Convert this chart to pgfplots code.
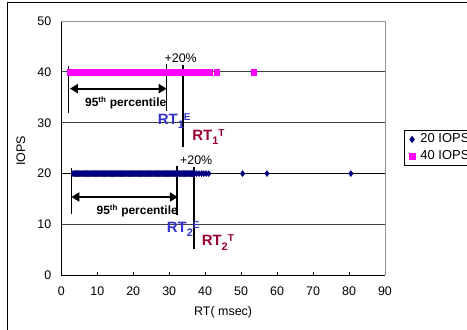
\documentclass[border=0pt]{standalone}
\usepackage{pgfplots}
\pgfplotsset{compat=1.18}
\usepackage{fontspec}
\setmainfont{Liberation Sans}
\usetikzlibrary{arrows.meta}
\definecolor{navyc}{RGB}{0,0,128}
\definecolor{magc}{RGB}{255,0,255}
\definecolor{rtblue}{RGB}{51,51,204}
\definecolor{rtred}{RGB}{153,0,51}
\definecolor{gridc}{RGB}{64,64,64}
\definecolor{bordc}{RGB}{150,150,150}
\newcommand{\rtsub}[1]{\raisebox{-4.5bp}{\fontsize{11}{11}\selectfont #1}}
\newcommand{\rtsup}[1]{\raisebox{4bp}{\fontsize{10}{10}\selectfont #1}}
\begin{document}
\begin{tikzpicture}
\path[use as bounding box] (0,0) rectangle (467bp,330bp);
\clip (0,0) rectangle (467bp,330bp);
\draw[line width=0.8bp] (7.3bp,-5bp) -- (7.3bp,327.7bp) -- (480bp,327.7bp);
\begin{axis}[
  at={(61.3bp,54.7bp)}, anchor=south west,
  scale only axis, width=323.7bp, height=254.3bp,
  xmin=0, xmax=90, ymin=0, ymax=50,
  xtick={0,10,...,90}, ytick={0,10,...,50},
  axis x line*=bottom, axis y line*=left,
  axis line style={-, black, line width=0.8bp},
  xtick align=inside, major tick length=3bp,
  ytick style={draw=none},
  xtick style={black, line width=0.8bp},
  /pgf/number format/assume math mode=true,
  tick label style={font=\fontsize{12.5}{14}\selectfont, text=black},
  xticklabel style={yshift=-8bp},
  yticklabel style={xshift=-6.6bp},
  xlabel={RT( msec)}, ylabel={IOPS},
  label style={font=\fontsize{12.5}{14}\selectfont},
  xlabel style={at={(axis description cs:0.5,-0.1455)}, anchor=center},
  ylabel style={at={(axis description cs:-0.125,0.49)}, anchor=center},
  legend style={at={(axis description cs:1.0596,0.5714)}, anchor=north west,
    draw=black, line width=0.8bp, font=\fontsize{13}{15}\selectfont,
    inner xsep=4bp, inner ysep=2bp, row sep=3bp,
    nodes={inner sep=1bp, text height=9bp, text depth=3bp, anchor=west}},
  legend image code/.code={\path (0bp,0bp) (10bp,0bp);
    \draw[mark repeat=2,mark phase=2,#1] plot coordinates {(0bp,0bp) (3bp,0bp) (6bp,0bp)};},
  legend cell align=left,
  clip=false,
]
% gridlines
\draw[gridc, line width=0.8bp] (axis cs:0,10) -- (axis cs:90,10);
\draw[gridc, line width=0.8bp] (axis cs:0,30) -- (axis cs:90,30);
\draw[gridc, line width=0.8bp] (axis cs:0,40) -- (axis cs:90,40);
\draw[black, line width=0.8bp] (axis cs:0,20) -- (axis cs:90,20);
\draw[bordc, line width=0.8bp] (axis cs:0,50) -- (axis cs:90,50) -- (axis cs:90,0);

\addplot[only marks, mark=diamond*, mark size=3bp, color=navyc] coordinates {
(3.25,20) (3.5,20) (3.75,20) (4,20) (4.25,20) (4.5,20) (4.75,20) (5,20) (5.25,20) (5.5,20) (5.75,20)
(6,20) (6.25,20) (6.5,20) (6.75,20) (7,20) (7.25,20) (7.5,20) (7.75,20) (8,20) (8.25,20) (8.5,20) (8.75,20)
(9,20) (9.25,20) (9.5,20) (9.75,20) (10,20) (10.25,20) (10.5,20) (10.75,20) (11,20) (11.25,20) (11.5,20) (11.75,20)
(12,20) (12.25,20) (12.5,20) (12.75,20) (13,20) (13.25,20) (13.5,20) (13.75,20) (14,20) (14.25,20) (14.5,20) (14.75,20)
(15,20) (15.25,20) (15.5,20) (15.75,20) (16,20) (16.25,20) (16.5,20) (16.75,20) (17,20) (17.25,20) (17.5,20) (17.75,20)
(18,20) (18.25,20) (18.5,20) (18.75,20) (19,20) (19.25,20) (19.5,20) (19.75,20) (20,20) (20.25,20) (20.5,20) (20.75,20)
(21,20) (21.25,20) (21.5,20) (21.75,20) (22,20) (22.25,20) (22.5,20) (22.75,20) (23,20) (23.25,20) (23.5,20) (23.75,20)
(24,20) (24.25,20) (24.5,20) (24.75,20) (25,20) (25.25,20) (25.5,20) (25.75,20) (26,20) (26.25,20) (26.5,20) (26.75,20)
(27,20) (27.25,20) (27.5,20) (27.75,20) (28,20) (28.25,20) (28.5,20) (28.75,20) (29,20) (29.25,20) (29.5,20) (29.75,20)
(30,20) (30.25,20) (30.5,20) (30.75,20) (31,20) (31.25,20) (31.5,20) (31.75,20) (32,20) (32.25,20) (32.5,20) (32.75,20)
(33,20) (33.25,20) (33.5,20) (33.75,20) (34,20) (34.25,20) (34.5,20) (34.75,20) (35,20) (35.25,20) (35.5,20) (35.75,20)
(36,20) (36.25,20) (36.5,20) (36.75,20) (37,20)
(37.6,20) (38.3,20) (39,20) (39.6,20) (40.3,20) (41,20)
(50.4,20) (57.2,20) (80.5,20)
};
\addlegendentry{20 IOPS}
\addplot[only marks, mark=square*, mark size=2.9bp, color=magc] coordinates {
(2.5,40) (3,40) (3.5,40) (4,40) (4.5,40) (5,40) (5.5,40) (6,40) (6.5,40) (7,40) (7.5,40)
(8,40) (8.5,40) (9,40) (9.5,40) (10,40) (10.5,40) (11,40) (11.5,40) (12,40) (12.5,40)
(13,40) (13.5,40) (14,40) (14.5,40) (15,40) (15.5,40) (16,40) (16.5,40) (17,40) (17.5,40)
(18,40) (18.5,40) (19,40) (19.5,40) (20,40) (20.5,40) (21,40) (21.5,40) (22,40) (22.5,40)
(23,40) (23.5,40) (24,40) (24.5,40) (25,40) (25.5,40) (26,40) (26.5,40) (27,40) (27.5,40)
(28,40) (28.5,40) (29,40) (29.5,40) (30,40) (30.5,40) (31,40) (31.5,40) (32,40) (32.5,40)
(33,40) (33.5,40) (34,40) (34.5,40) (35,40) (35.5,40) (36,40) (36.5,40) (37,40) (37.5,40)
(38,40) (38.5,40) (39,40) (39.7,40) (40.4,40) (41.2,40)
(43.2,40) (53.5,40)
};
\addlegendentry{40 IOPS}

% annotations, 40 IOPS group
\draw[line width=1.3bp] (axis cs:2,32) -- (axis cs:2,41.2);
\draw[line width=1.3bp] (axis cs:29.3,32.3) -- (axis cs:29.3,41.6);
\draw[line width=1.3bp] (axis cs:33.8,25.2) -- (axis cs:33.8,41.3);
\draw[line width=2.2bp, {Triangle[length=8bp,width=9bp]}-{Triangle[length=8bp,width=9bp]}]
  (axis cs:2.4,36.7) -- (axis cs:29.3,36.7);
\node[font=\bfseries\fontsize{12}{13}\selectfont] at (axis cs:17.9,33.9) {95\textsuperscript{th} percentile};
\node[font=\fontsize{12.5}{14}\selectfont] at (axis cs:33.2,42.7) {+20\%};
\node[anchor=base west, inner sep=0, text=rtblue, font=\bfseries\fontsize{15}{16}\selectfont]
  at (axis cs:26.8,29.7) {RT\rtsub{1}\rtsup{E}};
\node[anchor=base west, inner sep=0, text=rtred, font=\bfseries\fontsize{15}{16}\selectfont]
  at (axis cs:36.4,26.6) {RT\rtsub{1}\rtsup{T}};

% annotations, 20 IOPS group
\draw[line width=1.3bp] (axis cs:2.8,12.1) -- (axis cs:2.8,21.1);
\draw[line width=1.3bp] (axis cs:32.2,11.9) -- (axis cs:32.2,21.4);
\draw[line width=1.3bp] (axis cs:36.9,5.1) -- (axis cs:36.9,21.2);
\draw[line width=2.2bp, {Triangle[length=8bp,width=9bp]}-{Triangle[length=8bp,width=9bp]}]
  (axis cs:2.8,15.4) -- (axis cs:32.4,15.4);
\node[font=\bfseries\fontsize{12}{13}\selectfont] at (axis cs:21.1,12.7) {95\textsuperscript{th} percentile};
\node[font=\fontsize{12.5}{14}\selectfont] at (axis cs:37.5,22.6) {+20\%};
\node[anchor=base west, inner sep=0, text=rtblue, font=\bfseries\fontsize{15}{16}\selectfont]
  at (axis cs:29.3,8.5) {RT\rtsub{2}\rtsup{E}};
\node[anchor=base west, inner sep=0, text=rtred, font=\bfseries\fontsize{15}{16}\selectfont]
  at (axis cs:39.0,5.8) {RT\rtsub{2}\rtsup{T}};
\end{axis}
\end{tikzpicture}
\end{document}
